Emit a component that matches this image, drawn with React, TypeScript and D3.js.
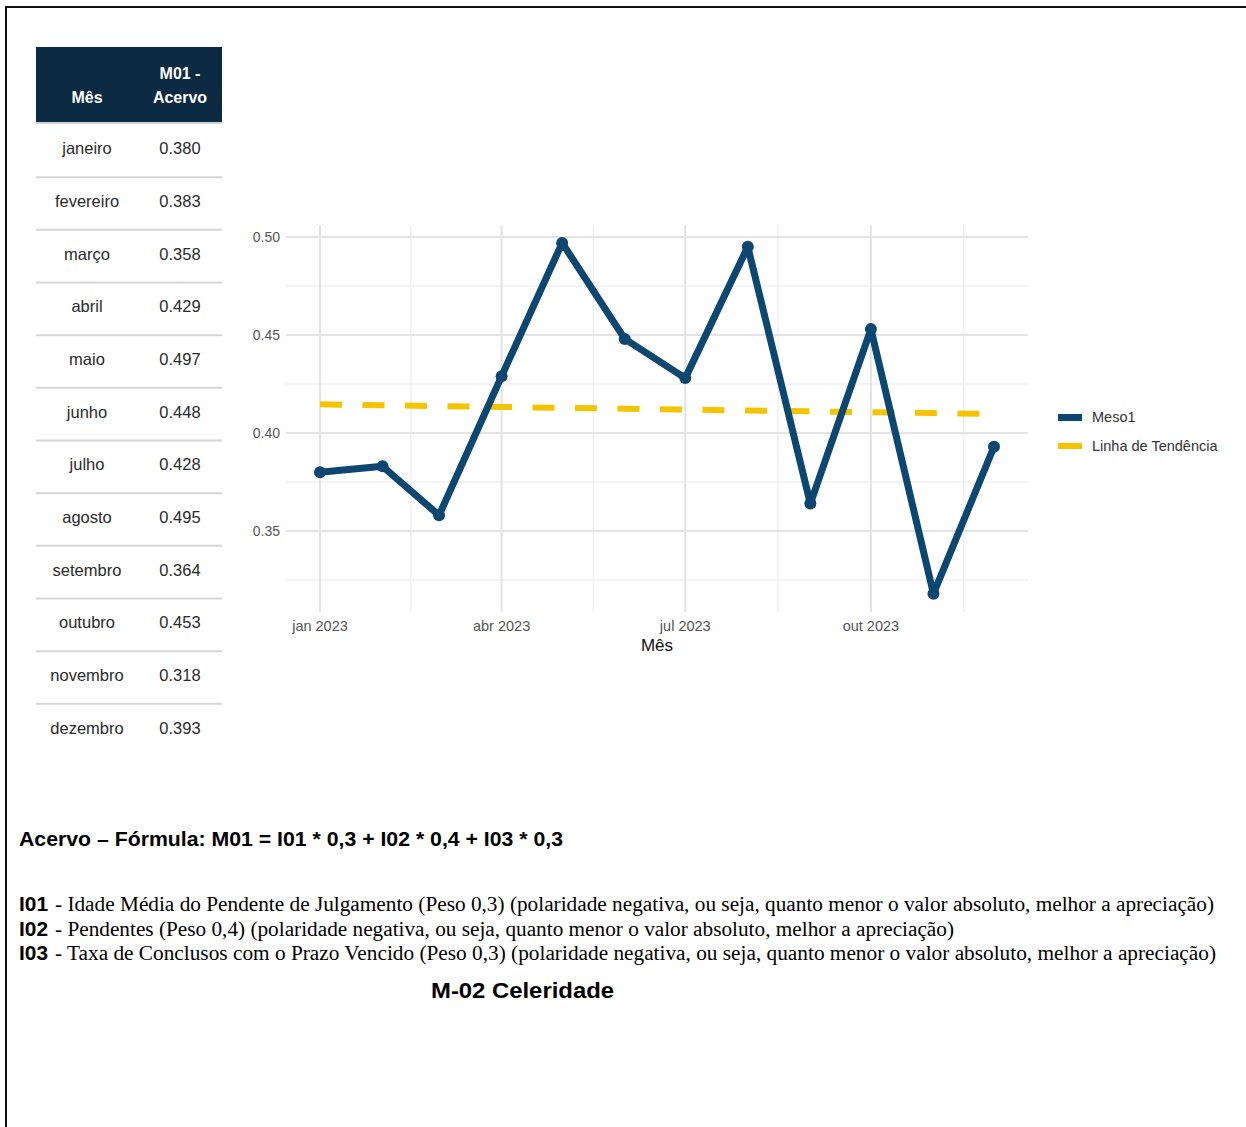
import React from "react";
import * as d3 from "d3";

const months = ["janeiro","fevereiro","março","abril","maio","junho","julho","agosto","setembro","outubro","novembro","dezembro"];
const values = [0.380,0.383,0.358,0.429,0.497,0.448,0.428,0.495,0.364,0.453,0.318,0.393];
const dates = months.map((_, i) => new Date(2023, i, 1));
const xTickDates = [new Date(2023,0,1), new Date(2023,3,1), new Date(2023,6,1), new Date(2023,9,1)];
const xTickLabels = ["jan 2023","abr 2023","jul 2023","out 2023"];
const yTicks = [0.35, 0.40, 0.45, 0.50];
const yMinor = [0.325, 0.375, 0.425, 0.475];
const legendLabels = ["Meso1", "Linha de Tendência"];
const headerCols = [["Mês"], ["M01 -", "Acervo"]];
const formulaText = "Acervo – Fórmula: M01 = I01 * 0,3 + I02 * 0,4 + I03 * 0,3";
const indicators = [
  ["I01", "- Idade Média do Pendente de Julgamento (Peso 0,3) (polaridade negativa, ou seja, quanto menor o valor absoluto, melhor a apreciação)"],
  ["I02", "- Pendentes (Peso 0,4) (polaridade negativa, ou seja, quanto menor o valor absoluto, melhor a apreciação)"],
  ["I03", "- Taxa de Conclusos com o Prazo Vencido (Peso 0,3) (polaridade negativa, ou seja, quanto menor o valor absoluto, melhor a apreciação)"],
];
const indicatorEnds = [1214, 954, 1216];
const footerTitle = "M-02 Celeridade";

const BLUE = "#0b4770";
const YELLOW = "#f5c400";
const NAVY = "#0c2a41";
const SANS = "'Liberation Sans', Arial, Helvetica, sans-serif";
const SERIF = "'Liberation Serif', 'Times New Roman', serif";

export default function App() {
  const x = d3.scaleTime().domain([dates[0], dates[11]]).range([320, 994]);
  const y = d3.scaleLinear().domain([0.35, 0.5]).range([531, 237]);
  const panel = { x0: 286, x1: 1028, y0: 225, y1: 612 };

  const majors = [...xTickDates, new Date(2024, 0, 1)];
  const xMinor = d3.pairs(majors).map(([a, b]) => new Date((a.getTime() + b.getTime()) / 2));

  const idx = values.map((_, i) => i);
  const mx = d3.mean(idx)!;
  const my = d3.mean(values)!;
  const slope = d3.sum(idx, (i) => (i - mx) * (values[i] - my)) / d3.sum(idx, (i) => (i - mx) ** 2);
  const icpt = my - slope * mx;
  const trend = idx.map((i) => icpt + slope * i);

  const line = d3.line<number>().x((_, i) => x(dates[i])).y((v) => y(v));

  const tX0 = 36, tX1 = 222, colC = [87, 180];
  const rowBand = d3.scaleBand<string>().domain(months).range([122, 754]);

  return (
    <svg width={1246} height={1127} style={{ position: "absolute", left: 0, top: 0, background: "#fff" }}>
      <rect x={0} y={0} width={1246} height={1127} fill="#fff" />
      <line x1={5} x2={1246} y1={7} y2={7} stroke="#111" strokeWidth={2} />
      <line x1={6} x2={6} y1={6} y2={1127} stroke="#111" strokeWidth={2} />

      <rect x={tX0} y={47} width={tX1 - tX0} height={75} fill={NAVY} />
      <line x1={tX0} x2={tX1} y1={123} y2={123} stroke="#cfd3d6" strokeWidth={2} />
      <text x={colC[0]} y={103} textAnchor="middle" fontFamily={SANS} fontWeight="bold" fontSize={16} fill="#fff">{headerCols[0][0]}</text>
      <text x={colC[1]} y={79} textAnchor="middle" fontFamily={SANS} fontWeight="bold" fontSize={16} fill="#fff">{headerCols[1][0]}</text>
      <text x={colC[1]} y={103} textAnchor="middle" fontFamily={SANS} fontWeight="bold" fontSize={16} fill="#fff">{headerCols[1][1]}</text>
      {months.map((m, i) => {
        const top = rowBand(m)!;
        const c = top + rowBand.bandwidth() / 2;
        return (
          <g key={m}>
            <text x={colC[0]} y={c + 6} textAnchor="middle" fontFamily={SANS} fontSize={16.5} fill="#2a2a2a">{m}</text>
            <text x={colC[1]} y={c + 6} textAnchor="middle" fontFamily={SANS} fontSize={16.5} fill="#2a2a2a">{d3.format(".3f")(values[i])}</text>
            {i < months.length - 1 && (
              <line x1={tX0} x2={tX1} y1={top + rowBand.bandwidth() + 2.5} y2={top + rowBand.bandwidth() + 2.5} stroke="#d6d6d6" strokeWidth={2} />
            )}
          </g>
        );
      })}

      {yMinor.map((v) => (
        <line key={"ym" + v} x1={panel.x0} x2={panel.x1} y1={y(v)} y2={y(v)} stroke="#f0f0f0" strokeWidth={1.5} />
      ))}
      {xMinor.map((d, i) => (
        <line key={"xm" + i} x1={x(d)} x2={x(d)} y1={panel.y0} y2={panel.y1} stroke="#f0f0f0" strokeWidth={1.5} />
      ))}
      {yTicks.map((v) => (
        <line key={"y" + v} x1={panel.x0} x2={panel.x1} y1={y(v)} y2={y(v)} stroke="#e4e4e4" strokeWidth={2} />
      ))}
      {xTickDates.map((d, i) => (
        <line key={"x" + i} x1={x(d)} x2={x(d)} y1={panel.y0} y2={panel.y1} stroke="#e4e4e4" strokeWidth={2} />
      ))}

      {yTicks.map((v) => (
        <text key={"yl" + v} x={280} y={y(v) + 5} textAnchor="end" fontFamily={SANS} fontSize={14} fill="#555">{d3.format(".2f")(v)}</text>
      ))}
      {xTickDates.map((d, i) => (
        <text key={"xl" + i} x={x(d)} y={631} textAnchor="middle" fontFamily={SANS} fontSize={14.5} fill="#555">{xTickLabels[i]}</text>
      ))}
      <text x={(panel.x0 + panel.x1) / 2} y={651} textAnchor="middle" fontFamily={SANS} fontSize={17} fill="#111">Mês</text>

      <path d={line(trend)!} fill="none" stroke={YELLOW} strokeWidth={6} strokeDasharray="22 20.5" />
      <path d={line(values)!} fill="none" stroke={BLUE} strokeWidth={7} strokeLinejoin="round" strokeLinecap="round" />
      {values.map((v, i) => (
        <circle key={"p" + i} cx={x(dates[i])} cy={y(v)} r={6} fill={BLUE} />
      ))}

      <rect x={1058} y={414} width={24} height={7} fill={BLUE} />
      <rect x={1058} y={443} width={24} height={6} fill={YELLOW} />
      <text x={1092} y={422} fontFamily={SANS} fontSize={14.5} fill="#333">{legendLabels[0]}</text>
      <text x={1092} y={451} fontFamily={SANS} fontSize={14.5} fill="#333">{legendLabels[1]}</text>

      <text x={19} y={846} fontFamily={SANS} fontWeight="bold" fontSize={20} fill="#000" textLength={544} lengthAdjust="spacingAndGlyphs">{formulaText}</text>
      {indicators.map(([lab, rest], i) => {
        const by = 911 + i * 24.5;
        return (
          <g key={lab}>
            <text x={19} y={by} fontFamily={SANS} fontWeight="bold" fontSize={20} fill="#000" textLength={29} lengthAdjust="spacingAndGlyphs">{lab}</text>
            <text x={55} y={by} fontFamily={SERIF} fontSize={20} fill="#000" textLength={indicatorEnds[i] - 55} lengthAdjust="spacingAndGlyphs">{rest}</text>
          </g>
        );
      })}
      <text x={431} y={998} fontFamily={SANS} fontWeight="bold" fontSize={22} fill="#000" textLength={183} lengthAdjust="spacingAndGlyphs">{footerTitle}</text>
    </svg>
  );
}
